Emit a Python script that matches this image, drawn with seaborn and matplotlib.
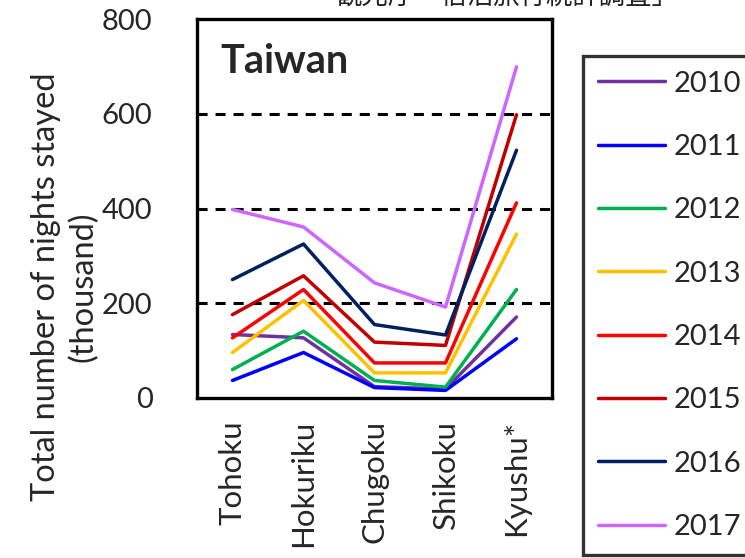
import matplotlib
matplotlib.use('Agg')
import matplotlib.pyplot as plt
import pandas as pd
import seaborn as sns

regions = ['Tohoku', 'Hokuriku', 'Chugoku', 'Shikoku', 'Kyushu*']
years = ['2010', '2011', '2012', '2013', '2014', '2015', '2016', '2017']
v2010 = [134, 127, 24, 19, 171]
v2011 = [37, 96, 22, 16, 125]
v2012 = [60, 141, 37, 23, 229]
v2013 = [96, 206, 53, 53, 346]
v2014 = [127, 229, 74, 74, 412]
v2015 = [176, 258, 118, 111, 598]
v2016 = [250, 325, 155, 133, 523]
v2017 = [398, 361, 243, 192, 699]
colors = ['#7030A0', '#0000FF', '#00B050', '#FFC000', '#FF0000', '#C00000', '#002060', '#CC66FF']

series = [v2010, v2011, v2012, v2013, v2014, v2015, v2016, v2017]
rows = []
for y, vals in zip(years, series):
    for r, v in zip(regions, vals):
        rows.append({'region': r, 'year': y, 'nights': v})
df = pd.DataFrame(rows)

sns.set_theme(style='white')
plt.rcParams['font.family'] = ['Lato', 'DejaVu Sans']

fig = plt.figure(figsize=(7.45, 5.58), dpi=100)
ax = fig.add_axes([197/745, 1-398/558, 355/745, 379/558])

sns.lineplot(data=df, x='region', y='nights', hue='year', sort=False,
             palette=dict(zip(years, colors)), linewidth=2.5, ax=ax)

ax.set_ylim(0, 800)
ax.set_xlim(-0.5, 4.5)
ax.set_yticks([0, 200, 400, 600, 800])
for g in [200, 400, 600]:
    ax.axhline(g, color='black', lw=2.2, ls=(0, (3.3, 2.6)), zorder=0)
for s in ax.spines.values():
    s.set_color('black')
    s.set_linewidth(2.4)
ax.tick_params(axis='y', length=0, pad=32, labelsize=21)
ax.tick_params(axis='x', length=0, pad=16, labelsize=22.5, rotation=90)
ax.set_xlabel('')
ax.set_ylabel('Total number of nights stayed\n(thousand)', fontsize=23.5, linespacing=1.3)
ax.yaxis.set_label_coords(-0.278, 0.293)

ax.text(0.065, 0.858, 'Taiwan', transform=ax.transAxes, fontsize=28.5,
        fontweight='bold', va='baseline', ha='left')

sns.move_legend(ax, 'upper left', bbox_to_anchor=(583/745, 1-56/558),
                bbox_transform=fig.transFigure, title=None, fontsize=21,
                frameon=True, fancybox=False, edgecolor='black',
                handlelength=2.3, labelspacing=1.28, handletextpad=0.3,
                borderpad=0.5, borderaxespad=0)
leg = ax.get_legend()
leg.get_frame().set_linewidth(2.4)
for h in leg.legend_handles:
    h.set_linewidth(2.5)

fig.text(335/745, 1+4/558, '観光庁「宿泊旅行統計調査」', fontsize=19,
         family=['Noto Sans CJK JP'], ha='left', va='center', color='#222222')

fig.savefig('out.png', dpi=100)
